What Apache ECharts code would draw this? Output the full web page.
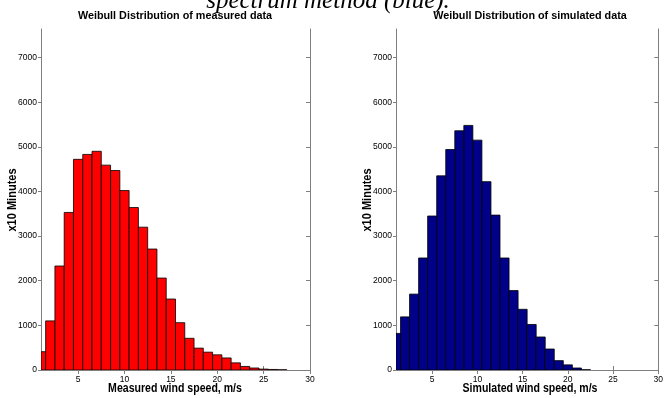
<!DOCTYPE html>
<html>
<head>
<meta charset="utf-8">
<script src="https://cdn.jsdelivr.net/npm/echarts@6/dist/echarts.min.js"></script>
<style>
  html, body { margin: 0; padding: 0; background: #fff; }
  #main { width: 666px; height: 398px; }
</style>
</head>
<body>
<div id="main"></div>
<script>
// bin centres (m/s), one bin per 1 m/s
var binCenters = [1, 2, 3, 4, 5, 6, 7, 8, 9, 10, 11, 12, 13, 14, 15, 16, 17, 18, 19, 20, 21, 22, 23, 24, 25, 26, 27, 28, 29, 30];
// counts (x10 minutes)
var measuredCounts = [410, 1100, 2330, 3530, 4720, 4830, 4900, 4590, 4470, 4020, 3640, 3200, 2710, 2060, 1590, 1060, 710, 490, 400, 340, 270, 160, 80, 45, 20, 12, 5, 0, 0, 0];
var simulatedCounts = [820, 1190, 1700, 2510, 3450, 4350, 4940, 5360, 5480, 5150, 4220, 3470, 2510, 1780, 1360, 1020, 740, 470, 210, 115, 45, 6, 0, 0, 0, 0, 0, 0, 0, 0];
var xTicks = [5, 10, 15, 20, 25, 30];
var yTicks = [0, 1000, 2000, 3000, 4000, 5000, 6000, 7000];

var chart = echarts.init(document.getElementById('main'), null, {renderer: 'canvas'});

var axisGray = '#7f7f7f';
var sans = 'Liberation Sans, Arial, Helvetica, sans-serif';
var tickFont = {fontFamily: sans, fontSize: 8.5, color: '#000'};

function pairs(counts) {
  var out = [];
  binCenters.forEach(function (c, i) {
    if (counts[i] > 0) out.push([c, counts[i]]);
  });
  return out;
}

function barRenderer(color) {
  return function (params, api) {
    var x = api.value(0), y = api.value(1);
    var p0 = api.coord([x - 0.5, y]);
    var p1 = api.coord([x + 0.5, 0]);
    var cs = params.coordSys;
    var rect = echarts.graphic.clipRectByRect(
      {x: p0[0], y: p0[1], width: p1[0] - p0[0], height: p1[1] - p0[1]},
      {x: cs.x, y: cs.y, width: cs.width, height: cs.height}
    );
    if (!rect) return;
    return {
      type: 'rect',
      shape: rect,
      style: {fill: color, stroke: '#000', lineWidth: 0.8}
    };
  };
}

function xAxes(gridIndex) {
  return [
    { // bottom
      type: 'value', gridIndex: gridIndex, position: 'bottom', min: 1, max: 30,
      axisLine: {show: true, lineStyle: {color: axisGray, width: 1}},
      axisTick: {show: true, inside: true, length: 4, customValues: xTicks, lineStyle: {color: axisGray}},
      axisLabel: {show: true, customValues: xTicks, margin: 5, fontFamily: tickFont.fontFamily, fontSize: tickFont.fontSize, color: tickFont.color,
        formatter: function (v) { return String(v); }},
      splitLine: {show: false}
    },
    { // top
      type: 'value', gridIndex: gridIndex, position: 'top', min: 1, max: 30,
      axisLine: {show: true, lineStyle: {color: axisGray, width: 1}},
      axisTick: {show: true, inside: true, length: 4, customValues: xTicks, lineStyle: {color: axisGray}},
      axisLabel: {show: false},
      splitLine: {show: false}
    }
  ];
}

function yAxes(gridIndex) {
  return [
    { // left
      type: 'value', gridIndex: gridIndex, position: 'left', min: 0, max: 7640,
      axisLine: {show: true, lineStyle: {color: axisGray, width: 1}},
      axisTick: {show: true, inside: false, length: 3, customValues: yTicks, lineStyle: {color: axisGray}},
      axisLabel: {show: true, customValues: yTicks, margin: 4, fontFamily: tickFont.fontFamily, fontSize: tickFont.fontSize, color: tickFont.color,
        formatter: function (v) { return String(v); }},
      splitLine: {show: false}
    },
    { // right
      type: 'value', gridIndex: gridIndex, position: 'right', min: 0, max: 7640,
      axisLine: {show: true, lineStyle: {color: axisGray, width: 1}},
      axisTick: {show: true, inside: true, length: 4, customValues: yTicks, lineStyle: {color: axisGray}},
      axisLabel: {show: false},
      splitLine: {show: false}
    }
  ];
}

function boldText(str, x, y, size, sx, rot) {
  return {
    type: 'text', x: x, y: y, rotation: rot || 0, scaleX: sx,
    style: {text: str, fontFamily: sans, fontWeight: 'bold', fontSize: size, fill: '#000', textAlign: 'center', textVerticalAlign: 'middle'}
  };
}

var option = {
  animation: false,
  backgroundColor: '#fff',
  grid: [
    {left: 41, top: 29, width: 269, height: 341},
    {left: 396, top: 29, width: 268, height: 341}
  ],
  xAxis: xAxes(0).concat(xAxes(1)),
  yAxis: yAxes(0).concat(yAxes(1)),
  graphic: [
    // caption of the figure above, cut off by the crop
    {type: 'text', x: 328, y: 1, style: {text: 'spectrum method (blue).', fontFamily: 'Liberation Serif, Times New Roman, serif', fontStyle: 'italic', fontSize: 25, fill: '#000', textAlign: 'center', textVerticalAlign: 'middle'}},
    boldText('Weibull Distribution of measured data', 175, 16, 10.8, 1),
    boldText('Weibull Distribution of simulated data', 530, 16, 10.8, 1),
    boldText('Measured wind speed, m/s', 175, 389, 12, 0.88),
    boldText('Simulated wind speed, m/s', 530, 389, 12, 0.88),
    boldText('x10 Minutes', 13, 200, 12, 0.92, Math.PI / 2),
    boldText('x10 Minutes', 368, 200, 12, 0.92, Math.PI / 2)
  ],
  series: [
    {
      type: 'custom', name: 'measured', xAxisIndex: 0, yAxisIndex: 0,
      renderItem: barRenderer('#ff0000'), data: pairs(measuredCounts), clip: true
    },
    {
      type: 'custom', name: 'simulated', xAxisIndex: 2, yAxisIndex: 2,
      renderItem: barRenderer('#000088'), data: pairs(simulatedCounts), clip: true
    }
  ]
};

chart.setOption(option);
</script>
</body>
</html>
